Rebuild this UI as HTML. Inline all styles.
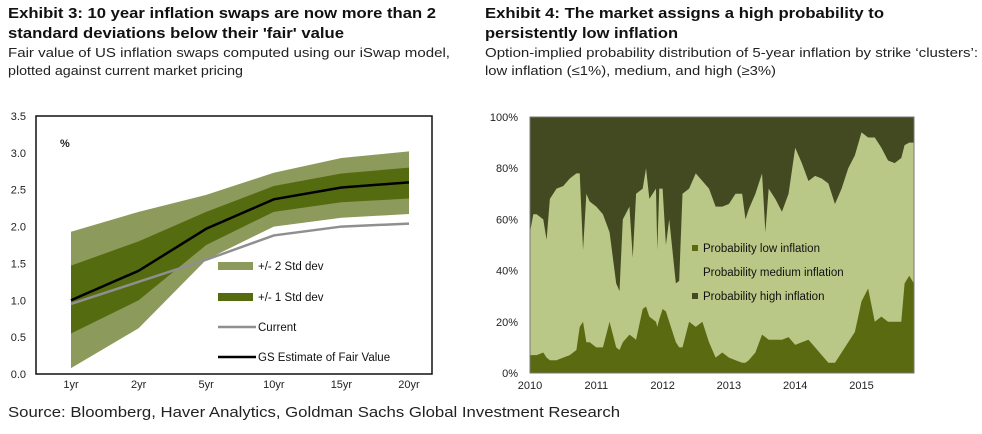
<!DOCTYPE html>
<html><head><meta charset="utf-8"><style>
html,body{margin:0;padding:0;background:#fff;}
svg{display:block;font-family:"Liberation Sans",Arial,sans-serif;}
</style></head><body>
<svg id="s" width="982" height="434" viewBox="0 0 982 434">
<defs><clipPath id="clip2"><rect x="530" y="117" width="384" height="256"/></clipPath></defs>
<g>
<text x="8" y="18" font-size="15" font-weight="bold" textLength="428" lengthAdjust="spacingAndGlyphs" fill="#111">Exhibit 3: 10 year inflation swaps are now more than 2</text>
<text x="8" y="38" font-size="15" font-weight="bold" textLength="336" lengthAdjust="spacingAndGlyphs" fill="#111">standard deviations below their 'fair' value</text>
<text x="8" y="57" font-size="13" textLength="442" lengthAdjust="spacingAndGlyphs" fill="#222">Fair value of US inflation swaps computed using our iSwap model,</text>
<text x="8" y="75" font-size="13" textLength="235" lengthAdjust="spacingAndGlyphs" fill="#222">plotted against current market pricing</text>
</g>
<g>
<text x="485" y="18" font-size="15" font-weight="bold" textLength="399" lengthAdjust="spacingAndGlyphs" fill="#111">Exhibit 4: The market assigns a high probability to</text>
<text x="485" y="38" font-size="15" font-weight="bold" textLength="193" lengthAdjust="spacingAndGlyphs" fill="#111">persistently low inflation</text>
<text x="485" y="57" font-size="13" textLength="493" lengthAdjust="spacingAndGlyphs" fill="#222">Option-implied probability distribution of 5-year inflation by strike ‘clusters’:</text>
<text x="485" y="75" font-size="13" textLength="291" lengthAdjust="spacingAndGlyphs" fill="#222">low inflation (≤1%), medium, and high (≥3%)</text>
</g>
<text x="8" y="417" font-size="15" textLength="612" lengthAdjust="spacingAndGlyphs" fill="#222">Source: Bloomberg, Haver Analytics, Goldman Sachs Global Investment Research</text>
<g id="c1"></g>
<g id="c2"></g>
</svg>
<script>
// Exhibit 3 data
const tenors = ["1yr","2yr","5yr","10yr","15yr","20yr"];
const fairValue = [1.0,1.4,1.97,2.37,2.53,2.6];
const current = [0.95,1.25,1.55,1.88,2.0,2.04];
const sd1Upper = [1.47,1.8,2.2,2.55,2.72,2.8];
const sd1Lower = [0.55,1.0,1.75,2.2,2.33,2.38];
const sd2Upper = [1.93,2.2,2.43,2.73,2.93,3.02];
const sd2Lower = [0.08,0.62,1.55,2.0,2.12,2.17];
const yTicks1 = ["0.0","0.5","1.0","1.5","2.0","2.5","3.0","3.5"];
// Exhibit 4 data
const dates = [2010.0,2010.05,2010.1,2010.2,2010.25,2010.3,2010.4,2010.5,2010.6,2010.7,2010.75,2010.8,2010.85,2010.9,2011.0,2011.1,2011.2,2011.3,2011.35,2011.4,2011.5,2011.55,2011.6,2011.7,2011.75,2011.8,2011.9,2011.92,2011.95,2012.0,2012.05,2012.1,2012.2,2012.25,2012.3,2012.4,2012.5,2012.6,2012.7,2012.8,2012.9,2013.0,2013.1,2013.2,2013.25,2013.3,2013.4,2013.5,2013.55,2013.6,2013.7,2013.8,2013.9,2014.0,2014.1,2014.2,2014.3,2014.4,2014.5,2014.6,2014.7,2014.8,2014.9,2015.0,2015.1,2015.2,2015.3,2015.4,2015.5,2015.6,2015.65,2015.72,2015.79];
const probLow = [7,7,7,8,6,5,5,6,7,9,18,20,12,12,10,10,20,10,9,12,15,14,13,25,26,22,20,18,21,25,24,20,12,10,10,20,18,20,12,6,8,6,5,4,4,5,8,15,14,13,13,13,14,11,12,13,10,7,4,4,8,12,16,28,33,20,22,20,20,20,35,38,35];
const probLowMed = [55,62,62,60,52,68,72,73,76,78,78,48,70,67,65,62,55,35,32,60,65,45,70,72,80,68,72,48,72,72,50,60,35,36,70,72,78,75,72,65,65,66,70,70,60,64,70,78,55,72,68,63,70,88,82,75,77,76,74,66,72,80,85,94,92,92,88,83,82,84,89,90,90];
const yTicks2 = ["0%","20%","40%","60%","80%","100%"];
const xYears = ["2010","2011","2012","2013","2014","2015"];

const NS="http://www.w3.org/2000/svg";
function mk(parent,tag,attrs,text){const e=document.createElementNS(NS,tag);for(const k in attrs)e.setAttribute(k,attrs[k]);if(text!==undefined)e.textContent=text;parent.appendChild(e);return e;}

// chart 1
const c1=document.getElementById('c1');
const L1=36,R1=432,T1=116,B1=374;
const x1=i=>71+i*67.6;
const y1=v=>B1-(v/3.5)*(B1-T1);
function band(up,lo,fill,name){
  let d="M"+up.map((v,i)=>x1(i)+","+y1(v)).join("L")+"L"+lo.map((v,i)=>x1(i)+","+y1(v)).reverse().join("L")+"Z";
  const p=mk(c1,'path',{d:d,fill:fill});
  
  
}
band(sd2Upper,sd2Lower,'#8c9a5b','band-2-std-dev');
band(sd1Upper,sd1Lower,'#556b10','band-1-std-dev');
function line(vals,stroke,w,name){
  const p=mk(c1,'polyline',{points:vals.map((v,i)=>x1(i)+","+y1(v)).join(" "),fill:"none",stroke:stroke,"stroke-width":w});
  
  
}
line(current,'#8f8f8f',2.5,'current-line');
line(fairValue,'#000',2.5,'fair-value-line');
const f1=mk(c1,'rect',{x:L1,y:T1,width:R1-L1,height:B1-T1,fill:'none',stroke:'#111','stroke-width':1.5});


yTicks1.forEach((t,i)=>{const e=mk(c1,'text',{x:26,y:y1(parseFloat(t))+4,'font-size':11,'text-anchor':'end',fill:'#222'},t);

});
tenors.forEach((t,i)=>{const e=mk(c1,'text',{x:x1(i),y:388,'font-size':11,'text-anchor':'middle',fill:'#222'},t);

});
const pc=mk(c1,'text',{x:60,y:147,'font-size':11,'font-weight':'bold',fill:'#222'},'%');


const leg=[['+/- 2 Std dev','#8c9a5b','box',266],['+/- 1 Std dev','#556b10','box',297],['Current','#8f8f8f','line',327],['GS Estimate of Fair Value','#000','line',357]];
leg.forEach(l=>{
  const g=mk(c1,'g',{});
  
  
  if(l[2]=='box')mk(g,'rect',{x:218,y:l[3]-4,width:35,height:8,fill:l[1]});
  else mk(g,'line',{x1:218,x2:256,y1:l[3],y2:l[3],stroke:l[1],'stroke-width':2.5});
  mk(g,'text',{x:258,y:l[3]+4,'font-size':11.5,fill:'#111'},l[0]);
});

// chart 2
const c2=document.getElementById('c2');
const L2=530,R2=914,T2=117,B2=373;
const x2=t=>L2+(t-2010)*66.3;
const y2=v=>B2-(v/100)*(B2-T2);
const hi=mk(c2,'rect',{x:L2,y:T2,width:R2-L2,height:B2-T2,fill:'#434a22'});


function area(vals,fill,name){
  let d="M"+x2(dates[0])+","+B2+"L"+vals.map((v,i)=>x2(dates[i])+","+y2(v)).join("L")+"L"+x2(dates[dates.length-1])+","+B2+"Z";
  const p=mk(c2,'path',{d:d,fill:fill,'clip-path':'url(#clip2)'});
  
  
}
area(probLowMed,'#b9c886','area-medium-inflation');
area(probLow,'#5a6a10','area-low-inflation');
const f2=mk(c2,'rect',{x:L2,y:T2,width:R2-L2,height:B2-T2,fill:'none',stroke:'#777','stroke-width':1});


yTicks2.forEach((t,i)=>{const e=mk(c2,'text',{x:518,y:y2(parseFloat(t))+4,'font-size':11,'text-anchor':'end',fill:'#222'},t);

});
xYears.forEach(t=>{const e=mk(c2,'text',{x:x2(parseFloat(t)),y:389,'font-size':11,'text-anchor':'middle',fill:'#222'},t);

});
const leg2=[['Probability low inflation','#5a6a10',248],['Probability medium inflation','#b9c886',272],['Probability high inflation','#434a22',296]];
leg2.forEach(l=>{
  const g=mk(c2,'g',{});
  
  
  mk(g,'rect',{x:692,y:l[2]-3,width:6,height:6,fill:l[1]});
  mk(g,'text',{x:703,y:l[2]+4,'font-size':11.5,fill:'#111'},l[0]);
});
</script>
</body></html>
